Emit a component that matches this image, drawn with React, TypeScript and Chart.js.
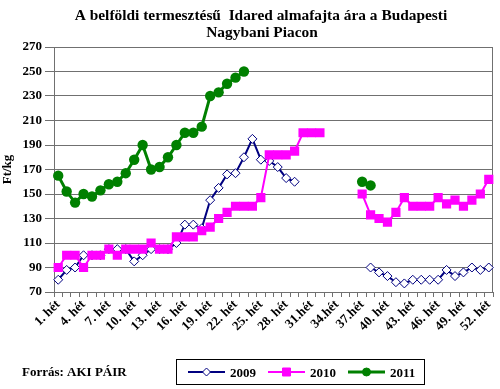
import React, { useEffect, useRef } from "react";
import { Chart, registerables } from "chart.js";

Chart.register(...registerables);

const weeks: string[] = [
  "1. hét", "2. hét", "3. hét", "4. hét", "5. hét", "6. hét", "7. hét", "8. hét", "9. hét", "10. hét",
  "11. hét", "12. hét", "13. hét", "14. hét", "15. hét", "16. hét", "17. hét", "18. hét", "19. hét", "20. hét",
  "21. hét", "22. hét", "23. hét", "24. hét", "25. hét", "26. hét", "27. hét", "28. hét", "29. hét", "30. hét",
  "31.hét", "32.hét", "33.hét", "34.hét", "35.hét", "36.hét", "37.hét", "38. hét", "39. hét", "40. hét",
  "41. hét", "42. hét", "43. hét", "44. hét", "45. hét", "46. hét", "47. hét", "48. hét", "49. hét", "50. hét",
  "51. hét", "52. hét",
];

const series2009: (number | null)[] = [
  80, 88, 90, 100, 100, 100, 105, 105, 105, 95,
  100, 105, 105, 105, 110, 125, 125, 122, 145, 155,
  166, 167, 180, 195, 178, 177, 172, 163, 160, null,
  null, null, null, null, null, null, null, 90, 86, 83,
  78, 77, 80, 80, 80, 80, 88, 83, 86, 90,
  88, 90,
];

const series2010: (number | null)[] = [
  90, 100, 100, 90, 100, 100, 105, 100, 105, 105,
  105, 110, 105, 105, 115, 115, 115, 120, 123, 130,
  135, 140, 140, 140, 147, 182, 182, 182, 185, 200,
  200, 200, null, null, null, null, 150, 133, 130, 127,
  135, 147, 140, 140, 140, 147, 142, 145, 140, 145,
  150, 162,
];

const series2011: (number | null)[] = [
  165, 152, 143, 150, 148, 153, 158, 160, 167, 178,
  190, 170, 172, 180, 190, 200, 200, 205, 230, 233,
  240, 245, 250, null, null, null, null, null, null, null,
  null, null, null, null, null, null, 160, 157, null, null,
  null, null, null, null, null, null, null, null, null, null,
  null, null,
];

const titleLines: string[] = [
  "A belföldi termesztésű  Idared almafajta ára a Budapesti",
  "Nagybani Piacon",
];
const sourceText = "Forrás: AKI PÁIR";
const yTitle = "Ft/kg";

const FONT = "'Liberation Serif', 'Times New Roman', serif";
const GRID = "#707070";

const extrasPlugin = {
  id: "extras",
  beforeDatasetsDraw(chart: any) {
    const { ctx, chartArea } = chart;
    ctx.save();
    ctx.strokeStyle = GRID;
    ctx.lineWidth = 1;
    ctx.strokeRect(
      Math.round(chartArea.left) + 0.5,
      Math.round(chartArea.top) + 0.5,
      Math.round(chartArea.right - chartArea.left) - 1,
      Math.round(chartArea.bottom - chartArea.top)
    );
    ctx.restore();
  },
  afterDraw(chart: any) {
    const { ctx } = chart;
    ctx.save();
    ctx.fillStyle = "#000";
    ctx.textAlign = "center";
    ctx.textBaseline = "alphabetic";
    ctx.font = `bold 15.4px ${FONT}`;
    ctx.fillText(titleLines[0], 261, 20);
    ctx.fillText(titleLines[1], 262, 37);

    ctx.font = `bold 13px ${FONT}`;
    ctx.textAlign = "left";
    ctx.fillText(sourceText, 22, 376);

    // legend
    const bx = 176, by = 359, bw = 248, bh = 25;
    ctx.strokeStyle = "#000";
    ctx.lineWidth = 1;
    ctx.strokeRect(bx + 0.5, by + 0.5, bw, bh);
    const items = chart.data.datasets;
    const starts = [188, 268, 348];
    const ly = 372;
    items.forEach((ds: any, i: number) => {
      const x0 = starts[i];
      ctx.strokeStyle = ds.borderColor;
      ctx.lineWidth = ds.borderWidth;
      ctx.beginPath();
      ctx.moveTo(x0, ly);
      ctx.lineTo(x0 + 37, ly);
      ctx.stroke();
      const cx = x0 + 18.5;
      ctx.fillStyle = ds.pointBackgroundColor;
      ctx.strokeStyle = ds.pointBorderColor;
      ctx.lineWidth = 1;
      ctx.beginPath();
      if (ds.pointStyle === "rectRot") {
        const r = 4;
        ctx.moveTo(cx, ly - r);
        ctx.lineTo(cx + r, ly);
        ctx.lineTo(cx, ly + r);
        ctx.lineTo(cx - r, ly);
        ctx.closePath();
      } else if (ds.pointStyle === "rect") {
        ctx.rect(cx - 4, ly - 4, 8, 8);
      } else {
        ctx.arc(cx, ly, 4, 0, Math.PI * 2);
      }
      ctx.fill();
      ctx.stroke();
      ctx.fillStyle = "#000";
      ctx.font = `bold 13px ${FONT}`;
      ctx.textAlign = "left";
      ctx.fillText(ds.label, x0 + 42, 377);
    });
    ctx.restore();
  },
};

export default function App() {
  const ref = useRef<HTMLCanvasElement | null>(null);
  useEffect(() => {
    if (!ref.current) return;
    const chart = new Chart(ref.current, {
      type: "line",
      data: {
        labels: weeks,
        datasets: [
          {
            label: "2009",
            data: series2009,
            borderColor: "#000080",
            borderWidth: 2,
            pointStyle: "rectRot",
            pointRadius: 4.5,
            pointBackgroundColor: "#ffffff",
            pointBorderColor: "#000080",
            pointBorderWidth: 1,
            spanGaps: false,
            tension: 0,
            order: 3,
          },
          {
            label: "2010",
            data: series2010,
            borderColor: "#ff00ff",
            borderWidth: 2,
            pointStyle: "rect",
            pointRadius: 6.5,
            pointBackgroundColor: "#ff00ff",
            pointBorderColor: "#ff00ff",
            pointBorderWidth: 0,
            spanGaps: false,
            tension: 0,
            order: 2,
          },
          {
            label: "2011",
            data: series2011,
            borderColor: "#008000",
            borderWidth: 3,
            pointStyle: "circle",
            pointRadius: 5.2,
            pointBackgroundColor: "#008000",
            pointBorderColor: "#008000",
            pointBorderWidth: 0,
            spanGaps: false,
            tension: 0,
            order: 1,
          },
        ],
      },
      options: {
        responsive: false,
        animation: false,
        layout: { padding: { top: 47, right: 7, bottom: 37, left: 0 } },
        plugins: {
          legend: { display: false },
          title: { display: false },
          tooltip: { enabled: false },
        },
        scales: {
          x: {
            type: "category",
            offset: true,
            afterFit: (s: any) => {
              s.height = 60;
            },
            grid: {
              offset: true,
              drawOnChartArea: false,
              tickLength: 5,
              color: GRID,
            },
            border: { display: true, color: GRID },
            ticks: {
              autoSkip: false,
              maxRotation: 45,
              minRotation: 45,
              padding: 0,
              color: "#000",
              font: { family: FONT, size: 13, weight: "bold" },
              callback: (_v: any, i: number) => (i % 3 === 0 ? weeks[i] : ""),
            },
          },
          y: {
            min: 70,
            max: 270,
            afterFit: (s: any) => {
              s.width = 54;
            },
            grid: { color: GRID, tickLength: 9 },
            border: { display: true, color: GRID },
            ticks: {
              stepSize: 20,
              padding: 3,
              color: "#000",
              font: { family: FONT, size: 13, weight: "bold" },
            },
            title: {
              display: true,
              text: yTitle,
              color: "#000",
              padding: { top: 0, bottom: 0 },
              font: { family: FONT, size: 13, weight: "bold" },
            },
          },
        },
      },
      plugins: [extrasPlugin],
    } as any);
    return () => chart.destroy();
  }, []);
  return (
    <div style={{ position: "absolute", left: 0, top: 0, width: 500, height: 389, background: "#fff" }}>
      <canvas ref={ref} width={500} height={389} style={{ display: "block" }} />
    </div>
  );
}
